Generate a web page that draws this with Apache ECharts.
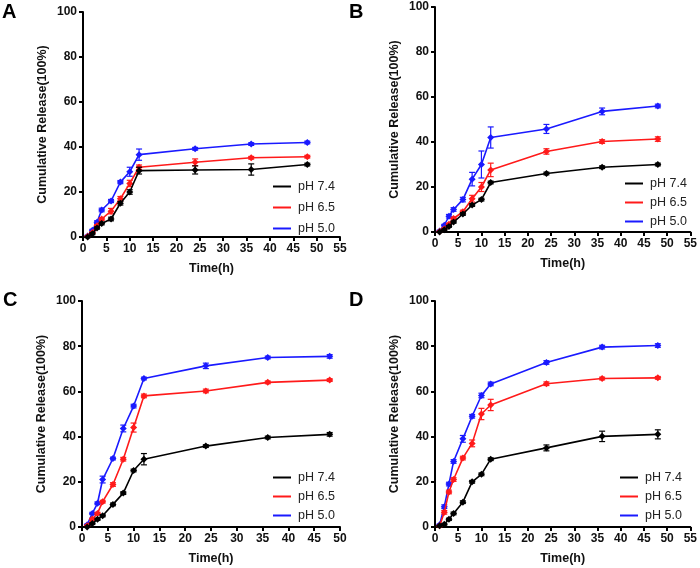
<!DOCTYPE html>
<html><head><meta charset="utf-8">
<script src="https://cdn.jsdelivr.net/npm/echarts@6/dist/echarts.min.js"></script>
<style>html,body{margin:0;padding:0;background:#fff}#c{width:700px;height:568px}</style>
</head><body><div id="c"></div>
<script>
var times = [1, 2, 3, 4, 6, 8, 10, 12, 24, 36, 48];
var seriesNames = ['pH 7.4', 'pH 6.5', 'pH 5.0'];
var panelLabels = ['A', 'B', 'C', 'D'];
var xMaxes = [55, 55, 50, 55];

// Panel A
var A74 = [0, 1.5, 4, 6, 8, 15, 20, 29.5, 29.8, 30, 32.2];
var A65 = [0.3, 2, 5, 8, 11.5, 17, 23.8, 31, 33.2, 35.2, 35.7];
var A50 = [0.5, 3, 6.6, 12, 16, 24.4, 29, 36.6, 39.2, 41.3, 42];
var A74e = [0.3, 0.5, 0.5, 0.6, 0.8, 0.8, 1, 1.5, 1.8, 2.5, 0.6];
var A65e = [0.3, 0.4, 0.5, 0.6, 1.2, 1, 1.4, 1, 1.5, 0.6, 0.6];
var A50e = [0.3, 0.4, 0.6, 0.8, 0.7, 0.7, 2, 2.5, 0.6, 0.6, 0.6];
// Panel B
var B74 = [0, 1, 2.5, 4.4, 8, 12, 14.4, 22, 26, 28.8, 30];
var B65 = [0.2, 1.5, 3.5, 6, 9, 14.8, 20, 27.6, 35.8, 40.2, 41.3];
var B50 = [0.5, 3, 7, 10, 14.4, 23.5, 30, 42, 45.8, 53.6, 56];
var B74e = [0.2, 0.3, 0.4, 0.5, 0.6, 0.6, 0.6, 0.6, 0.6, 0.6, 0.6];
var B65e = [0.2, 0.3, 0.4, 0.6, 0.7, 1.5, 2, 3, 1.2, 0.8, 1];
var B50e = [0.3, 0.4, 0.8, 0.8, 1, 3, 6, 4.7, 2, 1.5, 0.8];
// Panel C
var C74 = [0, 1.5, 3.4, 5, 10, 15, 25, 30, 35.8, 39.6, 41];
var C65 = [0.5, 3.5, 6, 11.2, 18.8, 30, 44, 58, 60.2, 64, 65];
var C50 = [1, 6, 10.5, 21, 30.3, 43.6, 53.5, 65.7, 71.3, 75, 75.5];
var C74e = [0.2, 0.4, 0.5, 0.5, 0.6, 0.6, 0.6, 2.5, 0.6, 0.6, 0.8];
var C65e = [0.3, 0.4, 0.5, 0.6, 0.8, 0.8, 2, 0.8, 0.8, 0.6, 0.6];
var C50e = [0.3, 0.5, 0.6, 1.5, 0.6, 1.5, 0.8, 0.6, 1.2, 0.6, 0.8];
// Panel D
var D74 = [0.5, 1.2, 3.4, 6, 11, 20, 23.3, 30, 35, 40.1, 41];
var D65 = [0.5, 6.5, 15.5, 21, 30.5, 37, 50, 54, 63.4, 65.7, 66];
var D50 = [1, 9, 19, 29, 39, 49, 58.2, 63.3, 72.8, 79.6, 80.3];
var D74e = [0.2, 0.4, 0.5, 0.6, 0.6, 0.6, 0.6, 0.6, 1.3, 2.3, 2];
var D65e = [0.3, 0.8, 0.8, 0.8, 0.8, 1.5, 2.5, 2.5, 0.8, 0.6, 0.6];
var D50e = [0.3, 0.8, 0.8, 0.8, 1.5, 0.8, 1, 0.8, 0.8, 0.8, 0.8];

var panelValues = [[A74, A65, A50], [B74, B65, B50], [C74, C65, C50], [D74, D65, D50]];
var panelErrors = [[A74e, A65e, A50e], [B74e, B65e, B50e], [C74e, C65e, C50e], [D74e, D65e, D50e]];
var colors = ['#000000', '#ff1a1a', '#1a1aff'];

var grids = [
  {left: 83, top: 12, width: 257, height: 225},
  {left: 435, top: 7, width: 257, height: 225},
  {left: 82, top: 301, width: 258, height: 226},
  {left: 435, top: 301, width: 257, height: 226}
];
var legendPos = [
  {left: 273, top: 180, itemGap: 8},
  {left: 625, top: 177, itemGap: 6},
  {left: 273, top: 471, itemGap: 6},
  {left: 620, top: 471, itemGap: 6}
];
var letterPos = [[2, 2], [349, 2], [3, 290], [349, 290]];

var FONT = 'Liberation Sans, Arial, sans-serif';
var option = {
  animation: false,
  grid: [], xAxis: [], yAxis: [], series: [], legend: [], graphic: []
};

grids.forEach(function (g, i) {
  option.grid.push({left: g.left, top: g.top, width: g.width, height: g.height, containLabel: false});
  option.xAxis.push({
    type: 'value', gridIndex: i, min: 0, max: xMaxes[i], interval: 5,
    name: 'Time(h)', nameLocation: 'middle', nameGap: 25,
    nameTextStyle: {fontFamily: FONT, fontWeight: 'bold', fontSize: 12.5, color: '#111'},
    axisLine: {lineStyle: {color: '#000', width: 2}},
    axisTick: {show: true, length: 4, lineStyle: {color: '#000', width: 2}},
    axisLabel: {fontFamily: FONT, fontWeight: 'bold', fontSize: 12, color: '#111', margin: 6},
    splitLine: {show: false}
  });
  option.yAxis.push({
    type: 'value', gridIndex: i, min: 0, max: 100, interval: 20,
    name: 'Cumulative Release(100%)', nameLocation: 'middle', nameGap: 34,
    nameTextStyle: {fontFamily: FONT, fontWeight: 'bold', fontSize: 12.5, color: '#111'},
    axisLine: {show: true, lineStyle: {color: '#000', width: 2}},
    axisTick: {show: true, length: 4, lineStyle: {color: '#000', width: 2}},
    axisLabel: {fontFamily: FONT, fontWeight: 'bold', fontSize: 12, color: '#111', margin: 6},
    splitLine: {show: false}
  });
  var names = [];
  panelValues[i].forEach(function (vals, k) {
    var nm = seriesNames[k] + ' ' + panelLabels[i];
    names.push({name: nm, icon: 'rect', itemStyle: {color: colors[k]}});
    option.series.push({
      type: 'line', name: nm, xAxisIndex: i, yAxisIndex: i,
      data: times.map(function (t, j) { return [t, vals[j]]; }),
      symbol: 'diamond', symbolSize: 7, showSymbol: true,
      lineStyle: {color: colors[k], width: 1.6},
      itemStyle: {color: colors[k]},
      z: 3 + (2 - k)
    });
    var errs = panelErrors[i][k];
    option.series.push({
      type: 'custom', name: nm + ' err', xAxisIndex: i, yAxisIndex: i,
      data: times.map(function (t, j) { return [t, vals[j] - errs[j], vals[j] + errs[j]]; }),
      renderItem: function (params, api) {
        var lo = api.coord([api.value(0), api.value(1)]);
        var hi = api.coord([api.value(0), api.value(2)]);
        var w = 3;
        var st = {stroke: colors[k], lineWidth: 1.2};
        return {type: 'group', children: [
          {type: 'line', shape: {x1: lo[0], y1: lo[1], x2: hi[0], y2: hi[1]}, style: st},
          {type: 'line', shape: {x1: lo[0] - w, y1: lo[1], x2: lo[0] + w, y2: lo[1]}, style: st},
          {type: 'line', shape: {x1: hi[0] - w, y1: hi[1], x2: hi[0] + w, y2: hi[1]}, style: st}
        ]};
      },
      z: 3 + (2 - k)
    });
  });
  option.legend.push({
    orient: 'vertical', left: legendPos[i].left, top: legendPos[i].top,
    padding: 0,
    itemGap: legendPos[i].itemGap, itemWidth: 18, itemHeight: 2,
    data: names,
    formatter: function (n) { return n.slice(0, -2); },
    textStyle: {fontFamily: FONT, fontSize: 12.5, color: '#222', padding: [0, 0, 0, 2]},
    selectedMode: false
  });
  option.graphic.push({
    type: 'text', left: letterPos[i][0], top: letterPos[i][1],
    style: {text: panelLabels[i], font: 'bold 20px ' + FONT, fill: '#000'}
  });
});

var chart = echarts.init(document.getElementById('c'), null, {renderer: 'canvas'});
chart.setOption(option);
</script></body></html>
